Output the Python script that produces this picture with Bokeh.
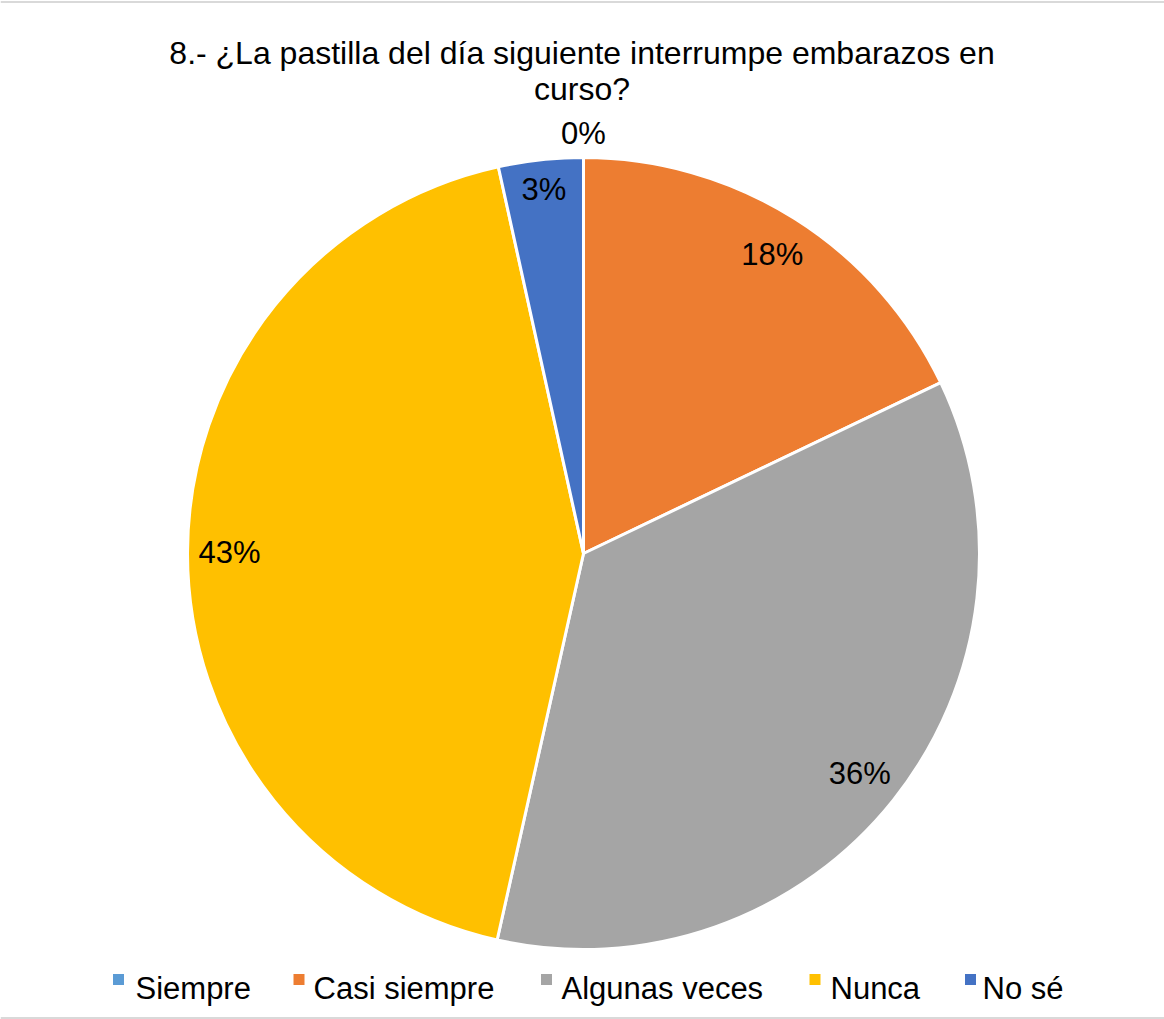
import numpy as np
from bokeh.plotting import figure
from bokeh.models import Range1d, ColumnDataSource, CDSView, BooleanFilter
from bokeh.core.properties import value
from bokeh.embed import file_html
from bokeh.resources import INLINE

# ---- data ----
categories = ["Siempre", "Casi siempre", "Algunas veces", "Nunca", "No sé"]
values = [0.0, 17.9, 35.6, 43.05, 3.45]
colors = ["#5B9BD5", "#ED7D31", "#A5A5A5", "#FFC000", "#4472C4"]
title_lines = ["8.- ¿La pastilla del día siguiente interrumpe embarazos en", "curso?"]

# ---- layout (page pixel coordinates; y is negated) ----
W, H = 1164, 1019
FONT = value("Liberation Sans")
cx, cy, R = 583, -553, 396
label_r = [420, 354, 353, 354, 366]
legend_sq_x = [118, 298.5, 546, 814.5, 970]
legend_tx_x = [135, 313, 561, 830, 982]

p = figure(width=W, height=H, x_range=Range1d(0, W), y_range=Range1d(-H, 0),
           output_backend="svg", toolbar_location=None, min_border=0,
           x_axis_type=None, y_axis_type=None)
p.grid.visible = False
p.outline_line_color = None
p.background_fill_color = "white"
p.border_fill_color = "white"

# thin frame lines of the chart area
p.segment(x0=[0, 0], y0=[-1.5, -1017.5], x1=[W, W], y1=[-1.5, -1017.5],
          line_color="#D9D9D9", line_width=2)

vals = np.array(values, dtype=float)
frac = vals / vals.sum()
cum_end = np.cumsum(frac)
cum_start = cum_end - frac
start = np.pi / 2 - cum_start * 2 * np.pi
end = np.pi / 2 - cum_end * 2 * np.pi
mid = (start + end) / 2
labels = [f"{int(round(f * 100))}%" for f in frac]

src = ColumnDataSource(dict(cat=categories, val=values, color=colors,
                            start=start, end=end))
p.wedge(x=cx, y=cy, radius=R, start_angle="start", end_angle="end", direction="clock",
        fill_color="color", line_color="white", line_width=3, source=src,
        view=CDSView(filter=BooleanFilter([v > 0 for v in values])))

lx = [cx + r * np.cos(a) for r, a in zip(label_r, mid)]
ly = [cy + r * np.sin(a) for r, a in zip(label_r, mid)]
p.text(x=lx, y=ly, text=labels, text_font=FONT, text_font_size="31px",
       text_align="center", text_baseline="middle", text_color="#000000")

# title
p.text(x=[581.5, 581.5], y=[-52, -88], text=title_lines, text_font=FONT,
       text_font_size="32px", text_align="center", text_baseline="alphabetic",
       text_color="#000000")

# legend
p.scatter(x=legend_sq_x, y=[-979] * 5, marker="square", size=11, fill_color=colors,
          line_color=None)
p.text(x=legend_tx_x, y=[-988] * 5, text=categories, text_font=FONT,
       text_font_size="31px", text_align="left", text_baseline="alphabetic",
       text_color="#000000")

open("out.html", "w").write(file_html(p, INLINE))
